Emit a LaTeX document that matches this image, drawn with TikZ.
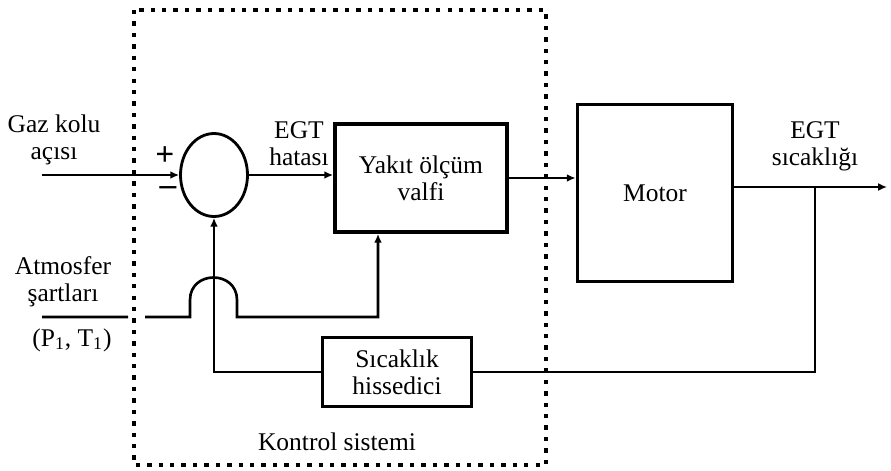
\documentclass[tikz,border=0pt]{standalone}
\usepackage{fontspec}
\setmainfont{Liberation Serif}
\usetikzlibrary{arrows.meta, positioning, calc, shapes.geometric}
\tikzset{
  blok/.style={rectangle, draw, line width=2.2pt, align=center,
    inner sep=0pt, font=\fontsize{14.5}{15.5}\selectfont},
  toplayici/.style={ellipse, draw, line width=1.6pt, inner sep=0pt,
    minimum width=1.34cm, minimum height=1.66cm},
  etiket/.style={align=center, font=\fontsize{14.5}{15.5}\selectfont},
  isaret/.style={inner sep=0pt, font=\fontsize{19}{19}\selectfont\bfseries},
  ok/.style={-{Latex[length=5pt,width=4.5pt]}, line width=1.5pt},
  hat/.style={line width=1.5pt},
  sinir/.style={line width=2.4pt, dash pattern=on 2.5pt off 4pt}
}

\begin{document}
\begin{tikzpicture}[x=0.02cm, y=-0.02cm]
  \useasboundingbox (0,0) rectangle (891,470);

  % Kontrol sistemi siniri
  \draw[sinir] (134,10) rectangle (546,465);
  \node[etiket] (kontrol) at (337,442) {Kontrol sistemi};

  % Bloklar
  \node[toplayici] (topla) at (214,175) {};
  \node[blok, minimum width=3.44cm, minimum height=2.16cm] (valf) at (421,178) {Yakıt ölçüm\\valfi};
  \node[blok, minimum width=3.1cm, minimum height=3.54cm] (motor) at (655,193) {Motor};
  \node[blok, minimum width=2.98cm, minimum height=1.38cm] (sensor) at (397,372) {Sıcaklık\\hissedici};

  % Etiketler
  \node[etiket] (gazlbl) at (54,140) {Gaz kolu\\açısı};
  \node[etiket] (hatalbl) at (299,144) {EGT\\hatası};
  \node[etiket] (egtlbl) at (815,146) {EGT\\sıcaklığı};
  \node[etiket] (atmlbl) at (63,282) {Atmosfer\\şartları};
  \node[etiket] (ptlbl) at (72,340) {(P\textsubscript{1}, T\textsubscript{1})};
  \node[isaret] (arti) at (165,156) {+};
  \node[isaret] (eksi) at (168,191) {--};

  % Yardimci noktalar
  \coordinate (gazin) at (42,175);
  \coordinate (atmin) at (42,317);
  \coordinate (bosluk1) at (128,317);
  \coordinate (bosluk2) at (145,317);
  \coordinate (atop1) at (190,317);
  \coordinate (atop2) at (237,317);
  \coordinate (valfalt) at (378,317);
  \coordinate (cikis) at (887,187);
  \coordinate (dal) at (815,187);

  % Baglantilar
  \draw[ok] (gazin) -- (topla.west);
  \draw[ok] (topla.east) -- (topla.east -| valf.west);
  \draw[ok] (valf.east) -- (valf.east -| motor.west);
  \draw[ok] (motor.east |- cikis) -- (cikis);
  \draw[hat] (dal) |- (sensor.east);
  \draw[ok] (sensor.west) -| (topla.south);
  \draw[ok] (atmin) -- (bosluk1) (bosluk2) -- (atop1) -- ++(0,-17)
    .. controls ++(0,-30) and ++(0,-30) .. ($(atop2)+(0,-17)$)
    -- (atop2) -- (valfalt) -- (valfalt |- valf.south);
\end{tikzpicture}
\end{document}
